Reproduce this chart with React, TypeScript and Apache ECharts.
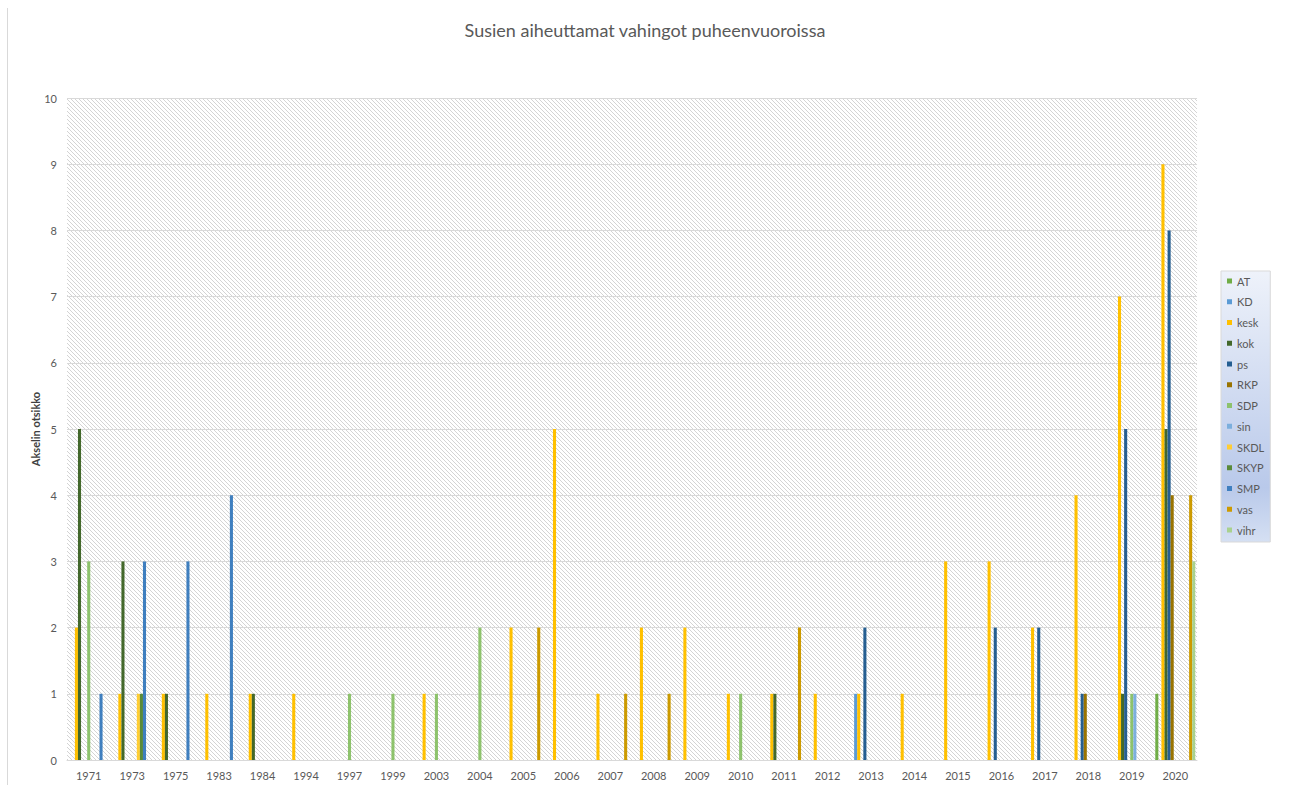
import React, { useEffect, useRef } from "react";
import * as echarts from "echarts";

const categories = ["1971", "1973", "1975", "1983", "1984", "1994", "1997", "1999", "2003", "2004", "2005", "2006", "2007", "2008", "2009", "2010", "2011", "2012", "2013", "2014", "2015", "2016", "2017", "2018", "2019", "2020"];
const yTicks = [0, 1, 2, 3, 4, 5, 6, 7, 8, 9, 10];

// values per category, order as in categories
const AT   = [0,0,0,0,0,0,0,0,0,0,0,0,0,0,0,0,0,0,0,0,0,0,0,0,0,1];
const KD   = [0,0,0,0,0,0,0,0,0,0,0,0,0,0,0,0,0,0,1,0,0,0,0,0,0,0];
const kesk = [2,1,1,1,1,1,0,0,1,0,2,5,1,2,2,1,1,1,1,1,3,3,2,4,7,9];
const kok  = [5,3,1,0,1,0,0,0,0,0,0,0,0,0,0,0,1,0,0,0,0,0,0,0,1,5];
const ps   = [0,0,0,0,0,0,0,0,0,0,0,0,0,0,0,0,0,0,2,0,0,2,2,1,5,8];
const RKP  = [0,0,0,0,0,0,0,0,0,0,0,0,0,0,0,0,0,0,0,0,0,0,0,1,0,4];
const SDP  = [3,0,0,0,0,0,1,1,1,2,0,0,0,0,0,1,0,0,0,0,0,0,0,0,1,0];
const sin  = [0,0,0,0,0,0,0,0,0,0,0,0,0,0,0,0,0,0,0,0,0,0,0,0,1,0];
const SKDL = [0,1,0,0,0,0,0,0,0,0,0,0,0,0,0,0,0,0,0,0,0,0,0,0,0,0];
const SKYP = [0,1,0,0,0,0,0,0,0,0,0,0,0,0,0,0,0,0,0,0,0,0,0,0,0,0];
const SMP  = [1,3,3,4,0,0,0,0,0,0,0,0,0,0,0,0,0,0,0,0,0,0,0,0,0,0];
const vas  = [0,0,0,0,0,0,0,0,0,0,2,0,1,1,0,0,2,0,0,0,0,0,0,0,0,4];
const vihr = [0,0,0,0,0,0,0,0,0,0,0,0,0,0,0,0,0,0,0,0,0,0,0,0,0,3];

const seriesNames = ["AT", "KD", "kesk", "kok", "ps", "RKP", "SDP", "sin", "SKDL", "SKYP", "SMP", "vas", "vihr"];
const seriesValues = [AT, KD, kesk, kok, ps, RKP, SDP, sin, SKDL, SKYP, SMP, vas, vihr];
const seriesColors = ["#70AD47", "#5B9BD5", "#FFC000", "#43682B", "#255E91", "#997300", "#8DC26C", "#7CAFDD", "#FFCD33", "#5A8A39", "#3F7FBF", "#CC9A00", "#A9D18E"];

const FONT = "Lato, 'Open Sans', sans-serif";
const TXT = "#595959";

function makeHatch(): HTMLCanvasElement {
  const c = document.createElement("canvas");
  c.width = 8;
  c.height = 8;
  const ctx = c.getContext("2d")!;
  const img = ctx.createImageData(8, 8);
  for (let y = 0; y < 8; y++) {
    for (let x = 0; x < 8; x++) {
      const i = (y * 8 + x) * 4;
      const on = (((x - y) % 4) + 4) % 4 === 0;
      const v = on ? 212 : 255;
      img.data[i] = v;
      img.data[i + 1] = v;
      img.data[i + 2] = v;
      img.data[i + 3] = 255;
    }
  }
  ctx.putImageData(img, 0, 0);
  return c;
}

export default function App() {
  const ref = useRef<HTMLDivElement>(null);
  useEffect(() => {
    if (!ref.current) return;
    const chart = echarts.init(ref.current, null, { renderer: "svg" });
    const hatch = makeHatch();
    chart.setOption({
      animation: false,
      backgroundColor: "#ffffff",
      title: {
        text: "Susien aiheuttamat vahingot puheenvuoroissa",
        left: "center",
        top: 16,
        textStyle: { fontFamily: FONT, fontSize: 18, fontWeight: "normal", color: TXT },
      },
      grid: {
        left: 67,
        right: 93,
        top: 98,
        bottom: 25,
        show: true,
        borderWidth: 0,
        backgroundColor: { image: hatch, repeat: "repeat" },
      },
      legend: {
        orient: "vertical",
        left: 1221,
        top: 271,
        icon: "rect",
        itemWidth: 5,
        itemHeight: 5,
        itemGap: 8.75,
        padding: [4, 6, 6, 6],
        borderColor: "#d9d9d9",
        borderWidth: 1,
        backgroundColor: new echarts.graphic.LinearGradient(0, 0, 0, 1, [
          { offset: 0, color: "#eef2fa" },
          { offset: 0.8, color: "#b9c9ea" },
          { offset: 1, color: "#d5e0f3" },
        ]),
        textStyle: { fontFamily: FONT, fontSize: 11, color: TXT, lineHeight: 12 },
        data: seriesNames,
      },
      xAxis: {
        type: "category",
        data: categories,
        axisLine: { lineStyle: { color: "#d9d9d9", width: 1 } },
        axisTick: { show: false },
        axisLabel: { interval: 0, fontFamily: FONT, fontSize: 11, color: TXT, margin: 10 },
        splitLine: { show: false },
      },
      yAxis: {
        type: "value",
        min: yTicks[0],
        max: yTicks[yTicks.length - 1],
        interval: 1,
        name: "Akselin otsikko",
        nameLocation: "middle",
        nameRotate: 90,
        nameGap: 26,
        nameMoveOverlap: false,
        nameTextStyle: { fontFamily: FONT, fontSize: 11, fontWeight: "bold", color: "#404040" },
        axisLine: { show: false },
        axisTick: { show: false },
        axisLabel: { fontFamily: FONT, fontSize: 11, color: TXT, margin: 10 },
        splitLine: { lineStyle: { color: "#d9d9d9", width: 1 } },
      },
      series: seriesNames.map((name, i) => ({
        name,
        type: "bar",
        data: seriesValues[i],
        barGap: "0%",
        barCategoryGap: "8%",
        itemStyle: { color: seriesColors[i] },
      })),
      graphic: [
        {
          type: "line",
          shape: { x1: 7.5, y1: 8, x2: 7.5, y2: 785 },
          style: { stroke: "#d9d9d9", lineWidth: 1 },
          silent: true,
        },
      ],
    });
    return () => chart.dispose();
  }, []);
  return <div ref={ref} style={{ position: "fixed", left: 0, top: 0, width: 1290, height: 785 }} />;
}
